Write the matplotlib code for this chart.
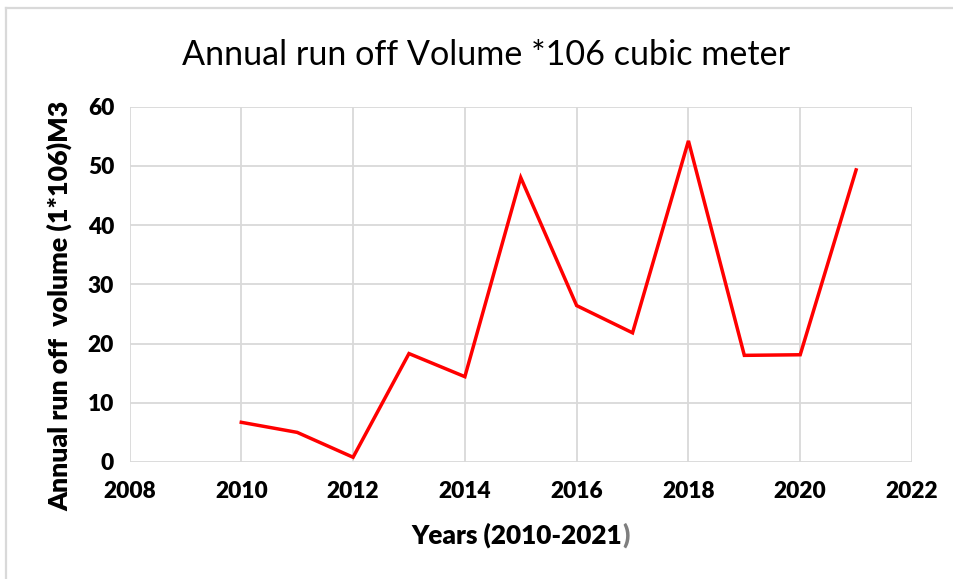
import matplotlib
matplotlib.use("Agg")
import matplotlib.pyplot as plt
from matplotlib.lines import Line2D

years = [2010, 2011, 2012, 2013, 2014, 2015, 2016, 2017, 2018, 2019, 2020, 2021]
runoff = [6.7, 5.0, 0.8, 18.3, 14.4, 48.0, 26.4, 21.8, 54.2, 18.0, 18.1, 49.3]
x_ticks = [2008, 2010, 2012, 2014, 2016, 2018, 2020, 2022]
y_ticks = [0, 10, 20, 30, 40, 50, 60]

title = "Annual run off Volume *106 cubic meter"
x_label = "Years (2010-2021"
y_label = "Annual run off  volume (1*106)M3"

font = ["Lato", "DejaVu Sans"]
W, H = 954, 579
fig = plt.figure(figsize=(W / 100, H / 100), dpi=100)
ax = fig.add_axes([129.5 / W, 1 - 462 / H, (912 - 129.5) / W, (462 - 106.5) / H])

ax.plot(years, runoff, color="#ff0000", lw=2.5, solid_joinstyle="miter", zorder=3)

ax.set_xlim(2008, 2022)
ax.set_ylim(0, 60)
ax.set_xticks(x_ticks)
ax.set_yticks(y_ticks)
ax.grid(True, color="#d9d9d9", lw=1.3)
ax.set_axisbelow(True)
for s in ax.spines.values():
    s.set_visible(False)
ax.tick_params(length=0)
ax.tick_params(axis="x", pad=14)
ax.tick_params(axis="y", pad=11)
for lab in ax.get_xticklabels() + ax.get_yticklabels():
    lab.set_fontfamily(font)
    lab.set_fontweight("heavy")
    lab.set_fontsize(16.3)

fig.text(486 / W, 1 - 55 / H, title, ha="center", va="center",
         fontsize=24.6, family=font, color="#000000")

xl = fig.text(517 / W, 1 - 535 / H, x_label, ha="center", va="center",
              fontsize=18.8, fontweight="heavy", family=font)
fig.text(60 / W, 1 - 306 / H, y_label, ha="center", va="center", rotation=90,
         fontsize=19.3, fontweight="heavy", family=font)
fig.canvas.draw()
ax.annotate(")", xy=(1, 0.5), xycoords=xl, va="center", ha="left",
            fontsize=18.8, fontweight="heavy", family=font, color="#7f7f7f",
            annotation_clip=False)

# chart frame edges (top and left)
border = "#d9d9d9"
fig.add_artist(Line2D([6.5 / W, 1], [1 - 7.5 / H, 1 - 7.5 / H], color=border, lw=1.6,
                      transform=fig.transFigure))
fig.add_artist(Line2D([6.5 / W, 6.5 / W], [0, 1 - 7.5 / H], color=border, lw=1.6,
                      transform=fig.transFigure))

fig.savefig("out.png", dpi=100, facecolor="white")
